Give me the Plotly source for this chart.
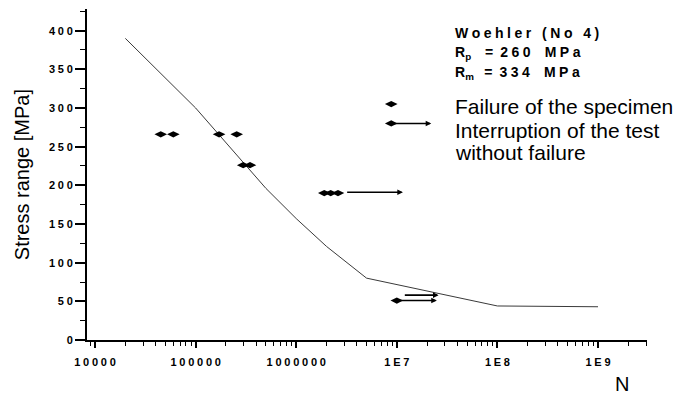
import numpy as np
import plotly.graph_objects as go

# Woehler curve
curve_n = [2e4, 1e5, 5e5, 1e6, 2e6, 5e6, 1e8, 1e9]
curve_s = [390, 300, 196, 157, 121, 80, 44, 43]

# Failure points
fail_n = [4.5e4, 6.0e4, 1.71e5, 2.56e5, 2.97e5, 3.47e5, 1.9e6, 2.2e6, 2.6e6]
fail_s = [266, 266, 266, 266, 226, 226, 190, 190, 190]

# Run-outs (interruption without failure)
run_start = [3.1e6, 1.16e7, 1.0e7]
run_end = [1.15e7, 2.6e7, 2.5e7]
run_s = [191, 58, 51]
run_marker = [False, False, True]

# Legend symbols
leg_fail = (8.8e6, 305)
leg_run = (8.8e6, 280, 2.2e7)

# Axis ticks
x_tickvals = [1e4, 1e5, 1e6, 1e7, 1e8, 1e9]
x_ticktext = ["10000", "100000", "1000000", "1E7", "1E8", "1E9"]
y_tickvals = [0, 50, 100, 150, 200, 250, 300, 350, 400]

SP = "\u2005"
def spaced(s):
    return SP.join(list(s))

FONT = "Liberation Sans, Arial, sans-serif"

fig = go.Figure()

fig.add_trace(go.Scatter(x=curve_n, y=curve_s, mode="lines",
                         line=dict(color="#3a3a3a", width=1), hoverinfo="skip"))

fig.add_trace(go.Scatter(x=fail_n, y=fail_s, mode="markers",
                         marker=dict(symbol="diamond-wide", size=9, color="black"),
                         hoverinfo="skip"))

annotations = []
def arrow(a, b, s):
    return dict(x=np.log10(b), y=s, ax=np.log10(a), ay=s,
                xref="x", yref="y", axref="x", ayref="y",
                text="", showarrow=True, arrowhead=2, arrowsize=0.7,
                arrowwidth=1.6, arrowcolor="black", standoff=0, startstandoff=0)

for a, b, s, m in zip(run_start, run_end, run_s, run_marker):
    annotations.append(arrow(a, b, s))
    if m:
        fig.add_trace(go.Scatter(x=[a], y=[s], mode="markers",
                                 marker=dict(symbol="diamond-wide", size=9, color="black"),
                                 hoverinfo="skip"))

# legend symbols
fig.add_trace(go.Scatter(x=[leg_fail[0], leg_run[0]], y=[leg_fail[1], leg_run[1]],
                         mode="markers",
                         marker=dict(symbol="diamond-wide", size=9, color="black"),
                         hoverinfo="skip"))
annotations.append(arrow(leg_run[0], leg_run[2], leg_run[1]))

def ptxt(text, x, y, size, bold=False, **kw):
    d = dict(text=text, x=x, y=y, xref="paper", yref="paper", showarrow=False,
             xanchor="left", yanchor="middle",
             font=dict(family=FONT, size=size, color="black",
                       weight="bold" if bold else "normal"))
    d.update(kw)
    return d

annotations.append(ptxt(spaced("Woehler (No 4)"), 0.6536, 0.9275, 14, True))
annotations.append(ptxt("R<sub>p</sub>" + SP * 4 + "=" + SP * 2 + spaced("260") + SP * 4 + spaced("MPa"),
                        0.6536, 0.868, 14, True))
annotations.append(ptxt("R<sub>m</sub>" + SP * 3 + "=" + SP * 2 + spaced("334") + SP * 4 + spaced("MPa"),
                        0.6536, 0.8076, 14, True))
annotations.append(ptxt("Failure of the specimen", 0.6536, 0.7048, 21))
annotations.append(ptxt("Interruption of the test", 0.6536, 0.6344, 21))
annotations.append(ptxt("without failure", 0.6536, 0.5650, 21))

annotations.append(dict(text="N", x=0.955, y=-0.133, xref="paper", yref="paper",
                        showarrow=False, xanchor="center", yanchor="middle",
                        font=dict(family=FONT, size=20, color="black")))
annotations.append(dict(text="Stress range [MPa]", x=-0.116, y=0.498, xref="paper",
                        yref="paper", showarrow=False, textangle=-90,
                        xanchor="center", yanchor="middle",
                        font=dict(family=FONT, size=20, color="black")))

minor_x = [k * 10 ** e for e in range(3, 10) for k in range(2, 10)
           if 8300 <= k * 10 ** e <= 3.0e9]

fig.update_layout(
    width=676, height=396,
    margin=dict(l=87, r=29, t=9, b=56),
    paper_bgcolor="white", plot_bgcolor="white",
    showlegend=False,
    annotations=annotations,
    xaxis=dict(type="log", range=[3.92, 9.487],
               tickvals=x_tickvals, ticktext=[spaced(t) for t in x_ticktext],
               ticks="outside", ticklen=6, tickwidth=1.5, tickcolor="black",
               ticklabelstandoff=5,
               showline=True, linecolor="black", linewidth=2,
               showgrid=False, zeroline=False,
               tickfont=dict(family=FONT, size=11, color="black", weight="bold"),
               minor=dict(tickvals=minor_x, ticks="outside", ticklen=4,
                          tickwidth=1.2, tickcolor="black", showgrid=False)),
    yaxis=dict(range=[0, 428], tickvals=y_tickvals,
               ticktext=[spaced(str(v)) for v in y_tickvals],
               ticks="outside", ticklen=10, tickwidth=1.5, tickcolor="black",
               showline=True, linecolor="black", linewidth=2,
               showgrid=False, zeroline=False,
               tickfont=dict(family=FONT, size=11, color="black", weight="bold"),
               minor=dict(tick0=0, dtick=25, ticks="outside", ticklen=5,
                          tickwidth=1.2, tickcolor="black", showgrid=False)),
)

fig.write_html("out.html")
